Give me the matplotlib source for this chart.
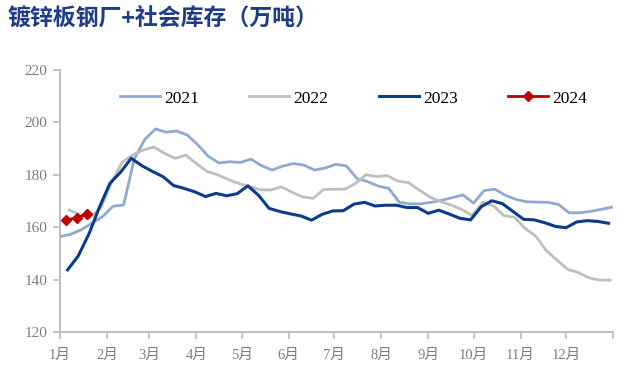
import pandas as pd
import matplotlib
matplotlib.use('Agg')
import matplotlib.pyplot as plt

#Weekly inventory values (10k tons)
y2021 = [156.4, 157.3, 159.0, 161.5, 164.0, 168.0, 168.5, 186.0, 193.5, 197.5,
         196.3, 196.7, 195.2, 191.4, 187.0, 184.5, 185.0, 184.7, 186.0, 183.5,
         181.8, 183.3, 184.3, 183.7, 181.8, 182.6, 184.0, 183.4, 178.6, 177.4,
         175.7, 174.8, 169.5, 168.9, 168.9, 169.5, 170.3, 171.3, 172.3, 169.2,
         174.0, 174.5, 172.2, 170.6, 169.7, 169.6, 169.5, 168.7, 165.5, 165.5,
         166.0, 166.8, 167.6]
y2022 = [166.6, 164.8, 163.8, 167.5, 177.0, 184.8, 187.6, 189.5, 190.6, 188.2,
         186.3, 187.5, 184.3, 181.3, 180.0, 178.2, 176.7, 175.5, 174.3, 174.2,
         175.4, 173.4, 171.6, 171.0, 174.4, 174.5, 174.5, 176.7, 180.0, 179.3,
         179.7, 177.6, 177.0, 174.2, 171.6, 169.8, 168.5, 166.8, 164.5, 169.5,
         168.2, 164.4, 163.8, 159.5, 156.6, 151.0, 147.5, 143.9, 142.7, 140.7,
         139.8, 139.8]
y2023 = [143.7, 149.0, 157.3, 167.6, 176.8, 181.0, 186.3, 183.5, 181.3, 179.3,
         175.9, 174.8, 173.5, 171.7, 172.9, 172.0, 172.8, 175.8, 172.2, 167.2,
         166.0, 165.1, 164.3, 162.7, 164.9, 166.2, 166.3, 168.8, 169.5, 168.1,
         168.4, 168.4, 167.5, 167.5, 165.3, 166.5, 165.0, 163.4, 162.8, 167.8,
         170.1, 169.0, 166.0, 163.0, 162.8, 161.7, 160.3, 159.8, 162.0, 162.5,
         162.2, 161.5]
y2024 = [162.7, 163.6, 164.9]

#first weekly date of each year, all put on one common year for the x axis
starts = {'2021': '2021-01-01', '2022': '2021-01-07', '2023': '2021-01-06', '2024': '2021-01-05'}
month_labels = [str(m) + '月' for m in range(1, 13)]

series = {'2021': y2021, '2022': y2022, '2023': y2023, '2024': y2024}
colors = {'2021': '#8FAAD0', '2022': '#BFBFBF', '2023': '#0B3C8C', '2024': '#C00000'}
widths = {'2021': 2.0, '2022': 2.0, '2023': 2.2, '2024': 2.0}

fig = plt.figure(figsize=(6.27, 3.66), dpi=100)
ax = fig.add_axes([0.0957, 0.0929, 0.882, 0.7158])

for name, vals in series.items():
    dates = pd.date_range(starts[name], periods=len(vals), freq='7D')
    if name == '2024':
        ax.plot(dates, vals, color=colors[name], lw=widths[name], marker='D',
                markersize=5.5, label=name, zorder=5)
    else:
        ax.plot(dates, vals, color=colors[name], lw=widths[name], label=name)

ax.set_xlim(pd.Timestamp('2021-01-01'), pd.Timestamp('2022-01-01'))
ax.set_ylim(120, 220)
ax.set_yticks(range(120, 221, 20))

month_ticks = pd.date_range('2021-01-01', '2022-01-01', freq='MS')
ax.set_xticks(month_ticks)
ax.set_xticklabels(month_labels + [''])

for sp in ['top', 'right']:
    ax.spines[sp].set_visible(False)
for sp in ['left', 'bottom']:
    ax.spines[sp].set_color('#BFBFBF')
    ax.spines[sp].set_linewidth(1.5)

ax.tick_params(axis='both', direction='out', length=5, width=1.3, color='#BFBFBF',
               labelcolor='#7F7F7F')
for lab in ax.get_yticklabels():
    lab.set_family(['Liberation Serif'])
    lab.set_fontsize(11)
for lab in ax.get_xticklabels():
    lab.set_family(['Liberation Serif', 'Noto Sans CJK SC'])
    lab.set_fontsize(10.5)
ax.tick_params(axis='x', pad=7)
ax.tick_params(axis='y', pad=4)

leg = ax.legend(loc='upper left', bbox_to_anchor=(0.08, 0.982), ncol=4, frameon=False,
                handlelength=2.3, handletextpad=0.25, columnspacing=2.9,
                prop={'family': 'Liberation Serif', 'size': 12.5})

fig.text(0.012, 0.952, '镀锌板钢厂+社会库存（万吨）', fontsize=16.5, fontweight='bold',
         color='#1F3D86', family=['Noto Sans CJK SC', 'DejaVu Sans'], va='center')

fig.savefig('out.png', dpi=100)
